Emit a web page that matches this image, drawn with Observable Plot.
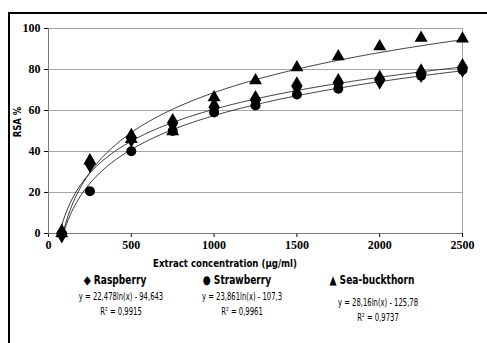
<!DOCTYPE html>
<html>
<head>
<meta charset="utf-8">
<script src="https://cdn.jsdelivr.net/npm/d3@7"></script>
<script src="https://cdn.jsdelivr.net/npm/@observablehq/plot@0.6"></script>
<style>
  html, body { margin: 0; padding: 0; background: #fff; }
  #wrap { position: relative; width: 487px; height: 343px; overflow: hidden; background: #fff; }
  #frame { position: absolute; left: 8px; top: 12px; width: 600px; height: 400px;
           border-left: 2.5px solid #000; border-top: 2.5px solid #000; }
  #chart { position: absolute; left: 0; top: 0; }
  .lbl { position: absolute; font-family: "DejaVu Sans Condensed", "DejaVu Sans", sans-serif;
         color: #000; white-space: nowrap; text-align: center; transform-origin: 50% 50%; }
  .ttl { font-weight: bold; font-size: 12px; transform: translateX(-50%) scaleX(0.84); }
  .eq { font-size: 10px; line-height: 15px; transform: translateX(-50%) scaleX(0.76); }
</style>
</head>
<body>
<div id="wrap">
  <div id="frame"></div>
  <div id="chart"></div>
  <div class="lbl" style="left:17px; top:122px; font-weight:bold; font-size:10.5px; transform: translate(-50%,-50%) rotate(-90deg) scaleX(0.9);">RSA %</div>
  <div class="lbl" style="left:225px; top:257px; font-weight:bold; font-size:11px; transform: translateX(-50%) scaleX(0.87);">Extract concentration (µg/ml)</div>
  <div id="legend"></div>
</div>
<script>
// ---- data ----
const concentrations = [80, 250, 500, 750, 1000, 1250, 1500, 1750, 2000, 2250, 2500];
const raspberry     = [0, 34.3, 46.7, 54, 61.6, 65.2, 71.9, 73.5, 75, 78.2, 80.8];
const strawberry    = [0, 20.6, 40.1, 50, 59, 62.4, 67.8, 70.6, 75, 77, 79.8];
const seaBuckthorn  = [0, 35.5, 46, 49.8, 66.3, 74.6, 81, 86.3, 91.2, 95.4, 95];

const seriesNames = ["Raspberry", "Strawberry", "Sea-buckthorn"];
const seriesSymbols = ["diamond", "circle", "triangle"];
const legendMarks = ["◆", "●", "▲"];
// trendline coefficients y = a ln(x) + b
const trendA = [22.478, 23.861, 28.16];
const trendB = [-94.643, -107.3, -125.78];
const equationLabels = ["y = 22,478ln(x) - 94,643", "y = 23,861ln(x) - 107,3", "y = 28,16ln(x) - 125,78"];
const r2Labels = ["R² = 0,9915", "R² = 0,9961", "R² = 0,9737"];

const xTicks = [0, 500, 1000, 1500, 2000, 2500];
const yTicks = [0, 20, 40, 60, 80, 100];

// ---- build tables ----
const seriesValues = [raspberry, strawberry, seaBuckthorn];
const points = [];
seriesNames.forEach((name, i) => {
  concentrations.forEach((c, j) => points.push({series: name, x: c, y: seriesValues[i][j]}));
});
const trend = [];
const xs = d3.range(60, 2501, 10);
seriesNames.forEach((name, i) => {
  xs.forEach(x => trend.push({series: name, x, y: trendA[i] * Math.log(x) + trendB[i]}));
});

const drawOrder = ["Sea-buckthorn", "Strawberry", "Raspberry"];
const dotR = {"Raspberry": 6, "Strawberry": 5, "Sea-buckthorn": 4.8};
const dotMarks = drawOrder.map(name => {
  const i = seriesNames.indexOf(name);
  return Plot.dot(points.filter(d => d.series === name), {
    x: "x", y: "y", symbol: () => seriesSymbols[i], r: dotR[name],
    fill: "#000", stroke: "none"
  });
});

const tickFont = {fontFamily: "Liberation Serif", fontWeight: "bold", fontSize: 12};

const chart = Plot.plot({
  width: 487, height: 260,
  marginLeft: 48, marginRight: 25, marginTop: 28, marginBottom: 27,
  style: {background: "transparent", color: "#000"},
  x: {domain: [0, 2500]},
  y: {domain: [0, 100]},
  symbol: {type: "identity"},
  marks: [
    Plot.gridY(yTicks, {stroke: "#a6a6a6", strokeOpacity: 1}),
    Plot.ruleX([2500], {stroke: "#a6a6a6"}),
    Plot.axisX(xTicks, {tickFormat: d => String(d), tickSize: 4, tickPadding: 3, label: null, ...tickFont}),
    Plot.axisY(yTicks, {tickSize: 4, tickPadding: 4, label: null, ...tickFont}),
    Plot.ruleX([0], {stroke: "#777"}),
    Plot.ruleY([0], {stroke: "#777"}),
    Plot.line(trend, {x: "x", y: "y", z: "series", stroke: "#222", strokeWidth: 0.9, clip: true}),
    ...dotMarks
  ]
});
document.getElementById("chart").appendChild(chart);

// ---- legend ----
const legendPos = [
  {tx: 115, ex: 121, ty: 273, ey: 289},
  {tx: 237, ex: 242, ty: 273, ey: 289},
  {tx: 372, ex: 378, ty: 273, ey: 295}
];
const legend = document.getElementById("legend");
seriesNames.forEach((name, i) => {
  const p = legendPos[i];
  const t = document.createElement("div");
  t.className = "lbl ttl";
  t.style.left = p.tx + "px"; t.style.top = p.ty + "px";
  t.textContent = legendMarks[i] + " " + name;
  legend.appendChild(t);
  const e = document.createElement("div");
  e.className = "lbl eq";
  e.style.left = p.ex + "px"; e.style.top = p.ey + "px";
  e.innerHTML = equationLabels[i] + "<br>" + r2Labels[i];
  legend.appendChild(e);
});
</script>
</body>
</html>
